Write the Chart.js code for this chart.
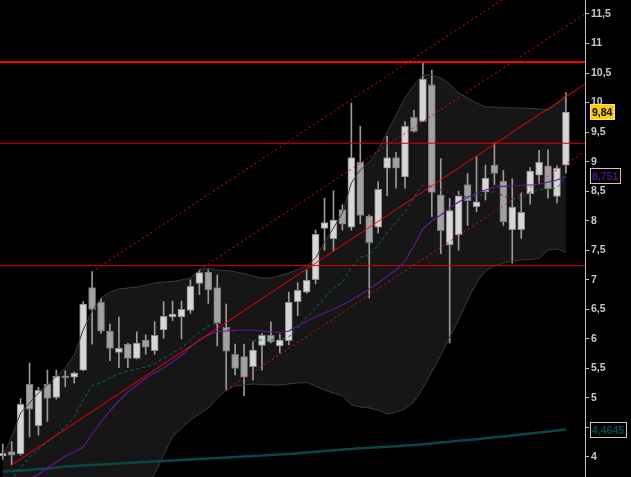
<!DOCTYPE html>
<html>
<head>
<meta charset="utf-8">
<script src="https://cdn.jsdelivr.net/npm/chart.js@4.4.1/dist/chart.umd.min.js"></script>
<style>
  html, body { margin: 0; padding: 0; background: #000; }
  canvas { display: block; background: #000; }
</style>
</head>
<body>
<canvas id="priceChart" width="631" height="477"></canvas>
<script>
// ===================== DATA =====================

// daily candles, one per slot (index 0..63)
const opens  = [4.02, 4.09, 4.05, 5.23, 4.53, 5.23, 5.01, 5.37, 5.35, 5.47,
                6.87, 6.62, 6.13, 5.77, 5.91, 5.67, 5.98, 5.80, 6.15, 6.37,
                6.37, 6.48, 6.94, 7.13, 6.87, 6.20, 5.74, 5.70, 5.53, 5.89,
                6.06, 5.88, 5.97, 6.63, 6.79, 7.00, 7.87, 7.69, 8.19, 7.89,
                8.99, 8.08, 7.89, 8.89, 9.07, 8.74, 9.75, 9.68, 10.30, 8.44,
                7.59, 7.76, 8.61, 8.24, 8.49, 8.94, 8.67, 7.85, 7.85, 8.46,
                8.77, 8.93, 8.41, 8.94];
const highs  = [4.22, 4.26, 4.99, 5.59, 5.18, 5.47, 5.47, 5.46, 5.44, 6.63,
                7.14, 6.69, 6.25, 6.37, 5.93, 6.12, 6.07, 6.29, 6.63, 6.64,
                6.64, 7.00, 7.17, 7.17, 7.08, 6.59, 5.91, 5.91, 5.95, 6.09,
                6.29, 6.08, 6.79, 6.95, 7.17, 7.84, 8.38, 8.51, 8.27, 9.99,
                9.60, 8.10, 8.66, 9.43, 9.16, 9.68, 9.87, 10.70, 10.55, 9.05,
                8.38, 8.50, 8.80, 9.08, 8.94, 9.32, 8.85, 8.71, 8.47, 8.90,
                9.19, 9.20, 8.93, 10.17];
const lows   = [3.96, 3.87, 4.03, 4.34, 4.37, 4.60, 4.98, 5.19, 5.25, 5.46,
                5.91, 6.09, 5.63, 5.51, 5.51, 5.66, 5.74, 5.74, 6.01, 6.31,
                6.00, 6.43, 6.75, 6.60, 5.88, 5.13, 5.39, 5.04, 5.30, 5.47,
                5.93, 5.76, 5.90, 6.39, 6.77, 6.93, 7.50, 7.49, 7.84, 7.84,
                7.95, 6.69, 7.79, 8.42, 8.55, 8.55, 9.50, 9.68, 8.07, 7.44,
                5.93, 7.50, 7.92, 8.15, 8.35, 8.61, 7.92, 7.28, 7.70, 8.28,
                8.63, 8.38, 8.30, 8.81];
const closes = [4.06, 4.03, 4.89, 4.81, 5.13, 4.99, 5.37, 5.34, 5.42, 6.59,
                6.50, 6.13, 5.84, 5.84, 5.67, 5.93, 5.86, 6.06, 6.38, 6.42,
                6.50, 6.89, 7.12, 6.83, 6.26, 5.79, 5.50, 5.35, 5.81, 6.06,
                5.95, 5.98, 6.62, 6.82, 6.99, 7.77, 7.97, 8.01, 7.94, 9.07,
                8.09, 7.63, 8.53, 9.07, 8.89, 9.60, 9.51, 10.40, 8.48, 7.83,
                8.17, 8.42, 8.34, 8.32, 8.72, 8.80, 7.98, 8.23, 8.14, 8.84,
                8.99, 8.54, 8.89, 9.84];

// bollinger envelope
const bandUpper = [4.017, 4.339, 4.745, 4.914, 5.083, 5.219, 5.371, 5.507, 5.727, 6.150,
                   6.472, 6.692, 6.793, 6.844, 6.861, 6.878, 6.912, 6.946, 6.963, 6.971,
                   6.997, 7.030, 7.166, 7.200, 7.166, 7.157, 7.132, 7.106, 7.064, 7.030,
                   7.030, 7.073, 7.115, 7.174, 7.233, 7.369, 7.640, 7.877, 8.131, 8.639,
                   8.859, 8.994, 9.198, 9.502, 9.790, 10.078, 10.298, 10.467, 10.467, 10.416,
                   10.315, 10.162, 10.078, 9.993, 9.930, 9.925, 9.917, 9.908, 9.908, 9.903,
                   9.891, 9.874, 9.976, 10.128];
const bandLower = [3.00, 2.95, 2.85, 2.85, 2.85, 2.90, 2.95, 3.00, 3.00, 2.95,
                   2.95, 3.00, 3.10, 3.20, 3.30, 3.40, 3.52, 3.712, 4.034, 4.339,
                   4.491, 4.626, 4.728, 4.830, 4.999, 5.134, 5.202, 5.219, 5.236, 5.227,
                   5.219, 5.219, 5.236, 5.253, 5.261, 5.202, 5.134, 5.083, 5.033, 4.880,
                   4.846, 4.830, 4.796, 4.728, 4.762, 4.813, 4.931, 5.168, 5.439, 5.727,
                   6.031, 6.319, 6.658, 6.946, 7.149, 7.234, 7.284, 7.318, 7.335, 7.344,
                   7.360, 7.504, 7.521, 7.462];
const bandMid   = [3.441, 3.611, 3.814, 4.000, 4.119, 4.254, 4.372, 4.508, 4.677, 4.965,
                   5.202, 5.253, 5.337, 5.405, 5.456, 5.490, 5.524, 5.574, 5.676, 5.761,
                   5.845, 5.981, 6.116, 6.218, 6.269, 6.184, 6.065, 5.998, 5.972, 5.981,
                   5.984, 5.989, 6.031, 6.184, 6.370, 6.522, 6.692, 6.861, 6.963, 7.200,
                   7.386, 7.411, 7.589, 7.792, 7.978, 8.147, 8.402, 8.605, 8.579, 8.520,
                   8.469, 8.427, 8.407, 8.419, 8.452, 8.495, 8.419, 8.368, 8.385, 8.486,
                   8.520, 8.537, 8.554, 8.757];

// moving averages
const maPurple = [null, null, null, 3.611, 3.712, 3.814, 3.915, 4.017, 4.085, 4.169,
                  4.389, 4.593, 4.779, 4.948, 5.100, 5.219, 5.337, 5.422, 5.507, 5.608,
                  5.727, 5.862, 5.981, 6.065, 6.125, 6.133, 6.142, 6.150, 6.150, 6.133,
                  6.116, 6.108, 6.133, 6.218, 6.302, 6.370, 6.438, 6.506, 6.573, 6.658,
                  6.743, 6.844, 6.946, 7.064, 7.166, 7.318, 7.572, 7.860, 7.995, 8.097,
                  8.215, 8.317, 8.393, 8.469, 8.520, 8.571, 8.583, 8.588, 8.596, 8.605,
                  8.613, 8.656, 8.689, 8.751];
const maLong   = [3.755, 3.763, 3.771, 3.780, 3.797, 3.805, 3.822, 3.839, 3.848, 3.856,
                  3.865, 3.873, 3.881, 3.890, 3.898, 3.907, 3.915, 3.924, 3.932, 3.941,
                  3.949, 3.958, 3.966, 3.975, 3.983, 3.992, 4.000, 4.008, 4.017, 4.025,
                  4.034, 4.042, 4.051, 4.063, 4.076, 4.088, 4.102, 4.113, 4.125, 4.135,
                  4.146, 4.156, 4.164, 4.173, 4.181, 4.193, 4.203, 4.217, 4.230, 4.244,
                  4.257, 4.274, 4.288, 4.301, 4.317, 4.332, 4.347, 4.364, 4.381, 4.398,
                  4.415, 4.432, 4.449, 4.4645];

// trend channel: [slot, price] start and end
const trendMain   = [[1, 3.865], [65.1, 10.31]];
const trendLow    = [[25, 5.134], [65.1, 9.17]];
const trendHighA  = [[10, 7.137], [65.1, 12.67]];
const trendHighB  = [[22, 7.166], [65.1, 11.50]];

// horizontal levels
const levelsMain = [10.687];
const levelsThin = [9.311, 7.24];

// price axis
const yTicks = [4, 4.5, 5, 5.5, 6, 6.5, 7, 7.5, 8, 8.5, 9, 9.5, 10, 10.5, 11, 11.5];
const yMin = 3.661, yMax = 11.737;
const xMin = -0.302, xMax = 65.135;

// ===================== HELPERS =====================

const asPoints = arr => arr.map((v, i) => ({ x: i, y: v }));
const asSegment = seg => seg.map(p => ({ x: p[0], y: p[1] }));
const asLevel = v => [{ x: xMin, y: v }, { x: xMax, y: v }];
const isUp = i => closes[i] >= opens[i];

const lineBase = {
    type: 'line',
    pointRadius: 0,
    pointHoverRadius: 0,
    fill: false,
    tension: 0,
    spanGaps: false
};

// ===================== CHART =====================

const datasets = [
    // band fill (pair: upper fills down to next dataset)
    { ...lineBase, data: asPoints(bandUpper), borderWidth: 0, borderColor: 'rgba(0,0,0,0)',
      backgroundColor: '#161616', fill: '+1', order: 30 },
    { ...lineBase, data: asPoints(bandLower), borderWidth: 0, borderColor: 'rgba(0,0,0,0)', order: 30 },

    // wicks
    { type: 'bar', data: lows.map((l, i) => ({ x: i, y: [l, highs[i]] })),
      backgroundColor: '#9a9a9a', barThickness: 1, grouped: false, borderWidth: 0, order: 21 },
    // bodies
    { type: 'bar', data: opens.map((o, i) => ({ x: i, y: [o, closes[i]] })),
      backgroundColor: opens.map((o, i) => isUp(i) ? '#d6d6d6' : '#a2a2a2'),
      borderColor: opens.map((o, i) => isUp(i) ? '#8a8a8a' : '#767676'),
      borderWidth: 1, borderSkipped: false, barThickness: 7, minBarLength: 2,
      grouped: false, order: 20 },

    // band edges
    { ...lineBase, data: asPoints(bandUpper), borderColor: '#3a3a3a', borderWidth: 1, order: 15 },
    { ...lineBase, data: asPoints(bandLower), borderColor: '#3a3a3a', borderWidth: 1, order: 15 },

    // long average
    { ...lineBase, data: asPoints(maLong), borderColor: '#0b4545', borderWidth: 2.5, order: 14 },

    // horizontal levels
    ...levelsThin.map(v => ({ ...lineBase, data: asLevel(v), borderColor: '#e00000', borderWidth: 1, order: 13 })),
    ...levelsMain.map(v => ({ ...lineBase, data: asLevel(v), borderColor: '#ff0000', borderWidth: 2, order: 13 })),

    // middle band, colour by direction
    { ...lineBase, data: asPoints(bandMid), borderWidth: 1, borderDash: [3, 3],
      borderColor: '#0a7070',
      segment: { borderColor: c => c.p1.parsed.y < c.p0.parsed.y ? '#5c1046' : '#0a7070' },
      order: 12 },

    // purple average
    { ...lineBase, data: asPoints(maPurple), borderColor: '#5e1a96', borderWidth: 1.2, order: 11 },

    // trend channel
    { ...lineBase, data: asSegment(trendMain), borderColor: '#ff0000', borderWidth: 1, order: 10 },
    { ...lineBase, data: asSegment(trendLow), borderColor: '#ff0000', borderWidth: 1, borderDash: [2, 3], order: 10 },
    { ...lineBase, data: asSegment(trendHighA), borderColor: '#ff0000', borderWidth: 1, borderDash: [2, 3], order: 10 },
    { ...lineBase, data: asSegment(trendHighB), borderColor: '#ff0000', borderWidth: 1, borderDash: [2, 3], order: 10 }
];

// price boxes on the axis
const priceTags = {
    id: 'priceTags',
    afterDraw(chart) {
        const ctx = chart.ctx;
        const yScale = chart.scales.y;
        const x0 = yScale.left + 5;
        const tags = [
            { v: closes[closes.length - 1], d: 2, bg: '#ffcc00', fg: '#000000', edge: '#f0e0a0' },
            { v: maPurple[maPurple.length - 1], d: 3, bg: '#000000', fg: '#4e1680', edge: '#c8c8c8' },
            { v: maLong[maLong.length - 1], d: 4, bg: '#000000', fg: '#0b4a4a', edge: '#c8c8c8' }
        ];
        ctx.save();
        ctx.font = 'bold 10.5px "Liberation Sans", Arial, sans-serif';
        ctx.textBaseline = 'middle';
        tags.forEach(t => {
            const txt = t.v.toFixed(t.d).replace('.', ',');
            const py = Math.round(yScale.getPixelForValue(t.v));
            const w = Math.ceil(ctx.measureText(txt).width) + 4;
            ctx.fillStyle = t.bg;
            ctx.fillRect(x0, py - 8, w, 16);
            ctx.strokeStyle = t.edge;
            ctx.lineWidth = 1;
            ctx.strokeRect(x0 + 0.5, py - 7.5, w - 1, 15);
            ctx.fillStyle = t.fg;
            ctx.fillText(txt, x0 + 2, py + 1);
        });
        ctx.restore();
    }
};

new Chart(document.getElementById('priceChart'), {
    type: 'line',
    data: { datasets },
    options: {
        responsive: false,
        animation: false,
        events: [],
        layout: { padding: 0 },
        plugins: {
            legend: { display: false },
            tooltip: { enabled: false }
        },
        scales: {
            x: {
                type: 'linear',
                min: xMin,
                max: xMax,
                offset: false,
                display: false
            },
            y: {
                type: 'linear',
                position: 'right',
                min: yMin,
                max: yMax,
                afterBuildTicks: s => { s.ticks = yTicks.map(v => ({ value: v })); },
                afterFit: s => { s.width = 46; s.paddingTop = 0; s.paddingBottom = 0; },
                ticks: {
                    color: '#c8c8c8',
                    padding: 2,
                    autoSkip: false,
                    font: { family: "'Liberation Sans', Arial, sans-serif", size: 10.5, weight: 'bold' },
                    callback: v => String(v).replace('.', ',')
                },
                grid: {
                    drawOnChartArea: false,
                    drawTicks: true,
                    tickLength: 4,
                    color: '#c0c0c0'
                },
                border: { color: '#c0c0c0', width: 1 }
            }
        }
    },
    plugins: [priceTags]
});
</script>
</body>
</html>
